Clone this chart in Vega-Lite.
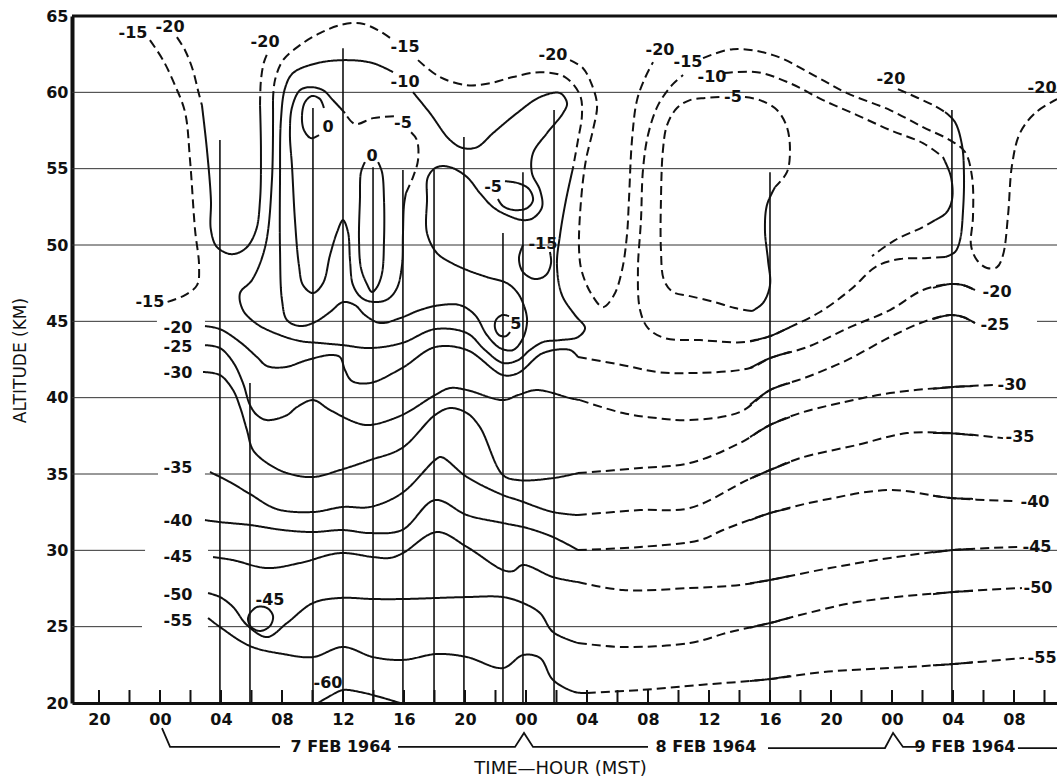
{
"$schema": "https://vega.github.io/schema/vega-lite/v6.json",
"width": 985, "height": 687,
"autosize": {"type": "none"},
"padding": {"left": 72, "top": 16, "right": 0, "bottom": 76},
"background": "white",
"config": {"view": {"stroke": null}},
"encoding": {
 "x": {"field": "t", "type": "quantitative", "scale": {"domain": [-5.77, 58.82], "nice": false, "zero": false},
  "axis": {"values": [-4,0,4,8,12,16,20,24,28,32,36,40,44,48,52,56], "labelExpr": "format(((datum.value % 24) + 24) % 24, '02d')", "ticks": false, "tickSize": 0, "grid": false, "domainColor": "#111", "domainWidth": 3, "labelFont": "DejaVu Sans", "labelFontWeight": "bold", "labelFontSize": 16, "labelColor": "#111", "labelPadding": 8, "labelFlush": false, "labelOverlap": false, "title": "TIME—HOUR  (MST)", "titleFont": "DejaVu Sans", "titleFontWeight": "normal", "titleFontSize": 18, "titleColor": "#111", "titleX": 488, "titleY": 65, "titleBaseline": "middle", "titleAlign": "center"}},
 "y": {"field": "a", "type": "quantitative", "scale": {"domain": [20, 65], "nice": false, "zero": false},
  "axis": {"values": [20,25,30,35,40,45,50,55,60,65], "ticks": false, "tickSize": 0, "grid": false, "domainColor": "#111", "domainWidth": 4, "labelFont": "DejaVu Sans", "labelFontWeight": "bold", "labelFontSize": 16, "labelColor": "#111", "labelPadding": 4, "labelFlush": false, "labelOverlap": false, "title": "ALTITUDE (KM)", "titleFont": "DejaVu Sans", "titleFontWeight": "normal", "titleFontSize": 17, "titleColor": "#111", "titleX": -52, "titleY": 344, "titleBaseline": "middle", "titleAlign": "center", "titleAngle": -90}}
},
"layer": [
 {"data": {"values": [
  {"t": -5.77, "t2": 58.82, "a": 60}, {"t": -5.77, "t2": 58.82, "a": 55}, {"t": -5.77, "t2": 58.82, "a": 50},
  {"t": -5.77, "t2": -0.2, "a": 45}, {"t": 2.95, "t2": 53.11, "a": 45}, {"t": 57.51, "t2": 58.82, "a": 45},
  {"t": -5.77, "t2": 58.82, "a": 40},
  {"t": -5.77, "t2": -0.13, "a": 35}, {"t": 2.95, "t2": 58.82, "a": 35},
  {"t": -5.77, "t2": -0.98, "a": 30}, {"t": 3.15, "t2": 58.82, "a": 30},
  {"t": -5.77, "t2": -1.18, "a": 25}, {"t": 3.15, "t2": 58.82, "a": 25}]},
  "mark": {"type": "rule", "stroke": "#333", "strokeWidth": 1},
  "encoding": {"x2": {"field": "t2"}}},
 {"data": {"values": [
  {"t": 3.93, "a": 20, "a2": 56.87}, {"t": 5.9, "a": 20, "a2": 40.96}, {"t": 10.03, "a": 20, "a2": 58.97},
  {"t": 12.0, "a": 20, "a2": 62.89}, {"t": 13.97, "a": 20, "a2": 55.1}, {"t": 15.93, "a": 20, "a2": 54.91},
  {"t": 17.97, "a": 20, "a2": 54.91}, {"t": 19.93, "a": 20, "a2": 57.07}, {"t": 22.49, "a": 20, "a2": 50.78},
  {"t": 23.8, "a": 20, "a2": 54.77}, {"t": 25.84, "a": 20, "a2": 58.84}, {"t": 40.0, "a": 20, "a2": 54.77},
  {"t": 51.93, "a": 20, "a2": 58.84}]},
  "mark": {"type": "rule", "stroke": "#111", "strokeWidth": 1.6},
  "encoding": {"y2": {"field": "a2"}}},
 {"data": {"values": [
  {"t": -4, "a": 20, "a2": 20.85}, {"t": -2, "a": 20, "a2": 20.85}, {"t": 0, "a": 20, "a2": 20.85}, {"t": 2, "a": 20, "a2": 20.85},
  {"t": 4, "a": 20, "a2": 20.85}, {"t": 6, "a": 20, "a2": 20.85}, {"t": 8, "a": 20, "a2": 20.85}, {"t": 10, "a": 20, "a2": 20.85},
  {"t": 12, "a": 20, "a2": 20.85}, {"t": 14, "a": 20, "a2": 20.85}, {"t": 16, "a": 20, "a2": 20.85}, {"t": 18, "a": 20, "a2": 20.85},
  {"t": 20, "a": 20, "a2": 20.85}, {"t": 22, "a": 20, "a2": 20.85}, {"t": 24, "a": 20, "a2": 20.85}, {"t": 26, "a": 20, "a2": 20.85},
  {"t": 28, "a": 20, "a2": 20.85}, {"t": 30, "a": 20, "a2": 20.85}, {"t": 32, "a": 20, "a2": 20.85}, {"t": 34, "a": 20, "a2": 20.85},
  {"t": 36, "a": 20, "a2": 20.85}, {"t": 38, "a": 20, "a2": 20.85}, {"t": 40, "a": 20, "a2": 20.85}, {"t": 42, "a": 20, "a2": 20.85},
  {"t": 44, "a": 20, "a2": 20.85}, {"t": 46, "a": 20, "a2": 20.85}, {"t": 48, "a": 20, "a2": 20.85}, {"t": 50, "a": 20, "a2": 20.85},
  {"t": 52, "a": 20, "a2": 20.85}, {"t": 54, "a": 20, "a2": 20.85}, {"t": 56, "a": 20, "a2": 20.85}, {"t": 58, "a": 20, "a2": 20.85}]},
  "mark": {"type": "rule", "stroke": "#111", "strokeWidth": 2},
  "encoding": {"y2": {"field": "a2"}}},
 {"data": {"values": [{"t": -5.77, "t2": 58.82, "a": 65}]},
  "mark": {"type": "rule", "stroke": "#111", "strokeWidth": 3},
  "encoding": {"x2": {"field": "t2"}}},
 {"data": {"values": [
  {"k": "L60", "s": "solid", "t": [10.36,11.15,12.0,13.11,14.43,15.74], "a": [20.0,20.46,20.85,20.72,20.39,20.0]},
  {"k": "L55a", "s": "solid", "t": [3.15,3.93,5.9,8.07,10.03,12.0,13.97,15.93,18.16,20.13,22.49,23.8,24.92,25.77,27.21,28.0], "a": [25.57,24.98,23.73,23.21,23.01,23.67,23.01,22.82,23.21,23.01,22.29,23.14,22.95,21.51,20.72,20.65]},
  {"k": "L55b", "s": "dash", "t": [28.0,31.48,35.41,40.0,43.48,47.87,52.0,56.66], "a": [20.65,20.85,21.18,21.57,22.03,22.29,22.55,22.95]},
  {"k": "L50a", "s": "solid", "t": [3.15,3.93,4.79,5.7,7.02,8.33,10.03,11.8,13.97,15.93,18.16,20.13,22.49,23.8,24.92,25.77,27.41], "a": [27.2,26.94,26.29,25.11,24.32,25.24,26.55,26.88,26.81,26.81,26.88,26.94,26.94,26.55,25.89,24.65,23.93]},
  {"k": "L50b", "s": "dash", "t": [27.41,30.36,34.75,37.38,40.0,41.97,45.7,52.0,56.52], "a": [23.93,23.67,23.93,24.65,25.24,25.76,26.61,27.27,27.53]},
  {"k": "L45loop", "s": "solid", "t": [5.9,6.36,7.02,7.41,7.21,6.56,5.97,5.77,5.9], "a": [25.89,26.29,26.22,25.7,25.04,24.72,24.98,25.5,25.89]},
  {"k": "L45a", "s": "solid", "t": [3.48,4.79,7.02,9.18,11.8,13.97,15.08,15.93,18.16,20.13,22.49,23.15,23.8,25.77,27.41], "a": [29.56,29.36,28.84,29.17,29.82,29.56,29.5,29.82,31.2,30.22,28.71,28.64,29.04,28.25,27.92]},
  {"k": "L45b", "s": "dash", "t": [27.41,30.36,34.75,38.03,40.0,43.93,47.87,52.0,56.39], "a": [27.92,27.4,27.53,27.73,28.06,28.84,29.5,30.02,30.22]},
  {"k": "L40a", "s": "solid", "t": [2.95,3.93,5.9,8.07,10.03,12.0,13.77,15.87,18.03,20.13,22.49,24.07,25.77,27.41], "a": [31.98,31.85,31.66,31.33,31.2,31.33,31.13,31.33,33.29,32.31,31.79,31.46,30.87,30.02]},
  {"k": "L40b", "s": "dash", "t": [27.41,31.48,35.41,36.92,40.0,43.48,47.87,51.8,56.07], "a": [30.02,30.22,30.67,31.33,32.44,33.29,33.95,33.43,33.23]},
  {"k": "L35a", "s": "solid", "t": [3.28,4.59,5.9,7.67,10.03,12.0,13.77,15.87,18.03,18.43,20.13,22.49,23.48,25.77,27.41], "a": [35.13,34.47,33.69,32.7,32.51,32.84,32.84,33.75,35.91,36.11,34.8,33.62,33.29,32.51,32.31]},
  {"k": "L35b", "s": "dash", "t": [27.41,31.48,34.75,38.49,40.0,41.97,45.7,48.98,51.8,55.28], "a": [32.31,32.64,32.77,34.6,35.26,36.04,36.9,37.68,37.68,37.35]},
  {"k": "L30a", "s": "solid", "t": [2.82,3.93,4.79,5.25,5.7,6.1,7.02,8.33,10.03,11.8,13.77,15.87,18.03,19.02,20.13,20.98,22.49,23.48,25.77,27.41], "a": [41.68,41.48,40.5,39.38,37.88,36.57,35.72,35.06,34.8,35.26,35.91,36.7,38.86,39.32,38.99,38.07,34.93,34.6,34.73,35.06]},
  {"k": "L30b", "s": "dash", "t": [27.41,31.48,34.75,38.03,40.0,41.97,44.59,47.87,51.8,54.75], "a": [35.06,35.39,35.72,37.03,38.21,38.99,39.65,40.3,40.69,40.83]},
  {"k": "L25a", "s": "solid", "t": [2.95,3.93,4.79,5.44,5.9,6.36,7.02,8.33,8.98,10.03,11.15,12.92,13.77,15.87,18.03,19.02,20.13,22.49,23.48,24.72,26.89,27.54], "a": [43.44,43.25,42.33,40.96,39.52,38.86,38.53,38.86,39.38,39.84,39.19,38.34,38.21,38.86,40.17,40.63,40.5,39.84,40.17,40.5,39.97,39.84]},
  {"k": "L25b", "s": "dash", "t": [27.54,30.36,32.59,34.75,38.03,40.0,42.43,45.05,47.87,50.03,51.8,52.66,53.44], "a": [39.84,38.99,38.66,38.53,39.06,40.5,41.35,42.46,43.97,44.95,45.41,45.28,44.89]},
  {"k": "L20a", "s": "solid", "t": [2.95,3.93,5.25,6.36,7.02,8.2,9.64,11.15,11.8,12.13,12.59,13.77,15.87,18.03,20.13,22.49,23.48,25.11,26.89,27.41], "a": [44.69,44.49,43.64,42.66,42.07,42.0,42.46,42.79,42.66,41.81,41.09,40.96,41.94,43.31,43.12,41.48,41.61,42.92,43.12,42.66]},
  {"k": "L20b", "s": "dash", "t": [27.41,30.36,32.59,34.75,38.69,40.0,42.43,45.25,47.87,50.03,51.8,52.66,53.44], "a": [42.66,42.13,41.68,41.61,41.94,42.59,43.31,44.62,45.74,47.05,47.44,47.37,47.05]},
  {"k": "U15s", "s": "solid", "t": [27.08,26.62,26.23,26.03,26.36,27.21,27.87,27.41,26.23,25.11,24.26,23.48,22.49,21.31,20.13,18.03,15.87,13.77,12.0,10.49,9.18,7.87,6.36,5.44,5.25,6.03,6.89,7.34,7.41], "a": [55.04,52.94,50.65,48.68,46.72,45.41,44.56,43.97,43.77,43.64,43.12,42.46,42.27,43.12,44.23,44.49,43.58,43.25,43.44,43.58,43.71,44.1,44.82,45.74,46.85,47.7,49.86,54.25,59.49]},
  {"k": "U15d1", "s": "dash", "t": [7.41,7.54,8.07,9.18,10.49,11.8,13.11,14.3,15.28], "a": [59.49,60.8,62.11,63.09,63.88,64.4,64.53,64.07,63.42]},
  {"k": "U15d2", "s": "dash", "t": [16.92,18.36,20.13,21.64,23.15,24.92,26.56,27.54,27.67,27.41,27.08], "a": [62.11,61.0,60.47,60.6,61.0,61.32,61.0,59.82,58.51,56.87,55.04]},
  {"k": "U10", "s": "solid", "t": [16.59,17.7,19.02,19.87,20.79,21.84,23.41,24.92,26.23,26.69,26.43,25.38,24.46,24.39,24.92,25.05,24.46,23.8,22.75,21.84,20.98,20.13,19.02,18.16,17.57,17.51,17.51,18.16,19.02,20.13,21.44,22.75,23.41,23.8,24.07,23.8,23.15,22.3,21.44,20.66,19.67,18.36,17.05,15.74,14.43,13.44,12.79,12.0,11.15,10.16,9.18,8.33,8.0,7.87,7.87,7.93,8.2,8.72,10.3,12.26,13.97,15.28], "a": [60.01,58.64,56.87,56.35,56.41,57.33,58.64,59.69,59.95,59.29,58.64,57.33,56.02,54.71,53.59,52.48,51.76,51.63,51.96,52.48,53.4,54.45,55.1,55.1,54.45,52.94,50.78,49.47,48.88,48.36,47.9,47.5,46.92,46.2,45.08,43.9,43.12,43.25,44.1,45.41,46.06,46.06,45.74,45.21,44.89,45.41,46.06,46.26,45.61,44.95,44.69,45.08,46.39,49.67,54.25,58.18,60.27,61.26,61.91,62.11,61.91,61.32]},
  {"k": "U5a", "s": "solid", "t": [12.13,11.34,10.69,9.84,9.18,8.66,8.52,8.66,8.85,9.11,9.38,10.03,10.69,11.15,11.61,12.0,12.33,12.46,12.66,13.25,14.1,14.95,15.54,15.87,15.93,16.0,16.13], "a": [58.64,59.49,60.14,60.34,60.14,59.03,57.33,55.1,51.63,48.68,47.37,46.85,47.5,49.34,50.84,51.63,50.84,49.01,47.37,46.52,46.26,46.46,47.18,48.68,50.65,52.61,53.4]},
  {"k": "U5b", "s": "dash", "t": [16.13,16.59,16.92,16.85,16.46], "a": [53.4,54.45,55.56,56.87,57.39]},
  {"k": "U5c", "s": "dash", "t": [15.34,13.97,12.79,12.13], "a": [58.44,58.31,57.92,58.64]},
  {"k": "Z0tall", "s": "solid", "t": [14.3,14.56,14.69,14.69,14.56,14.23,13.9,13.57,13.18,13.05,13.11,13.18,13.44], "a": [55.43,54.77,52.94,50.32,48.16,47.24,46.92,47.44,48.49,50.32,52.94,54.77,55.43]},
  {"k": "Z0small", "s": "solid", "t": [10.75,10.49,9.97,9.51,9.31,9.44,9.9,10.43], "a": [58.97,59.56,59.76,59.36,58.44,57.53,57.0,57.2]},
  {"k": "M5loop", "s": "solid", "t": [22.62,23.48,24.2,24.46,24.07,23.21,22.49,22.16], "a": [54.18,54.05,53.66,52.94,52.42,52.29,52.55,53.01]},
  {"k": "M5circ", "s": "solid", "t": [22.89,22.43,22.03,21.97,22.23,22.69,22.95], "a": [45.34,45.41,45.08,44.56,44.1,44.03,44.3]},
  {"k": "M15U", "s": "solid", "t": [23.8,23.54,23.8,24.59,25.31,25.64,25.57], "a": [49.99,49.14,48.23,47.77,48.03,48.81,49.54]},
  {"k": "U20a", "s": "dash", "t": [1.11,1.64,2.16,2.49,2.75], "a": [63.62,62.76,61.45,60.14,59.16]},
  {"k": "U20b", "s": "solid", "t": [2.75,3.08,3.34,3.34,3.74,4.72,5.64,6.3,6.56,6.62,6.56], "a": [59.16,56.22,52.94,50.98,49.86,49.4,49.8,50.98,52.94,56.22,59.16]},
  {"k": "U20c", "s": "dash", "t": [6.56,6.62,6.82,7.08], "a": [59.16,60.8,61.98,62.63]},
  {"k": "L15", "s": "dash", "t": [-0.66,0.2,0.98,1.64,1.97,2.3,2.56,2.43,1.64,0.46], "a": [63.42,62.11,60.47,58.71,55.56,50.98,48.68,47.37,46.72,46.26]},
  {"k": "RU20", "s": "dash", "t": [26.89,27.74,28.33,28.66,28.39,27.93,27.61,27.48,27.67,28.33,29.05,29.77,30.3,30.62,30.75,30.95,31.28,31.8,32.33], "a": [62.11,61.58,60.47,59.16,57.53,55.56,52.94,49.67,48.23,46.72,45.93,46.72,48.36,50.65,52.94,56.87,59.49,60.93,61.98]},
  {"k": "Ra", "s": "dash", "t": [35.61,37.57,40.2,43.08,45.05,47.87,50.03,51.8,52.79,53.25,53.31,53.18,53.57,54.23,54.89,55.28,55.61,55.87,56.39,57.38,58.82], "a": [62.24,62.83,62.44,61.0,59.95,58.84,57.72,56.87,56.09,54.45,51.83,49.99,49.01,48.49,48.55,49.34,51.96,55.23,57.33,58.64,59.56]},
  {"k": "Rb1", "s": "dash", "t": [48.39,49.7,50.82,51.48], "a": [60.21,59.63,59.1,58.71]},
  {"k": "Rb2", "s": "solid", "t": [51.48,52.13,52.59,52.72,52.66,52.46,52.13,51.48], "a": [58.71,58.05,56.54,54.58,52.29,50.32,49.54,49.21]},
  {"k": "Rb3", "s": "dash", "t": [51.48,50.16,48.52,47.02,45.25,43.28,41.31,40.0,38.36,35.41,33.11,32.0,31.48,31.34,31.54,31.67,32.0,32.66,33.57,34.3], "a": [49.21,49.14,49.08,48.62,47.05,45.61,44.62,44.03,43.64,43.77,43.9,44.56,45.74,48.36,51.63,54.91,57.2,59.16,60.47,61.13]},
  {"k": "Rm1", "s": "dash", "t": [36.98,39.15,41.31,43.48,45.7,47.87,50.03,51.34], "a": [61.26,61.32,60.6,59.49,58.51,57.53,56.67,55.76]},
  {"k": "Rm2", "s": "solid", "t": [51.34,51.87,51.93,51.54,50.82], "a": [55.76,54.45,52.94,52.09,51.63]},
  {"k": "Rm3", "s": "dash", "t": [50.82,50.03,48.2,46.69], "a": [51.63,51.17,50.32,49.27]},
  {"k": "R5a", "s": "dash", "t": [38.36,39.34,40.46,41.11,41.31,41.11,40.33], "a": [59.69,59.49,58.84,57.72,56.22,54.77,53.79]},
  {"k": "R5b", "s": "solid", "t": [40.33,39.8,39.67,39.87,40.0,39.54,38.82], "a": [53.79,52.61,50.98,49.01,47.37,46.2,45.67]},
  {"k": "R5c", "s": "dash", "t": [38.82,37.7,36.39,34.75,33.64,33.05,32.85,32.85,32.98,33.25,33.9,34.75,35.74,36.72], "a": [45.67,45.87,46.26,46.65,46.92,47.7,49.67,52.94,56.22,57.85,58.97,59.49,59.63,59.69]},
  {"k": "O770a", "s": "solid", "t": [38.69,40.0,41.31], "a": [21.44,21.57,21.77]},
  {"k": "O770b", "s": "solid", "t": [38.69,40.0,41.31], "a": [24.94,25.24,25.59]},
  {"k": "O770c", "s": "solid", "t": [38.69,40.0,41.31], "a": [27.84,28.06,28.32]},
  {"k": "O770d", "s": "solid", "t": [38.69,40.0,41.31], "a": [31.97,32.44,32.76]},
  {"k": "O770e", "s": "solid", "t": [38.69,40.0,41.31], "a": [34.69,35.26,35.78]},
  {"k": "O770f", "s": "solid", "t": [38.69,40.0,41.31], "a": [37.42,38.21,38.73]},
  {"k": "O770g", "s": "solid", "t": [38.69,40.0,41.31], "a": [39.53,40.5,40.96]},
  {"k": "O770h", "s": "solid", "t": [38.69,40.0,41.31], "a": [41.94,42.59,42.99]},
  {"k": "O770i", "s": "solid", "t": [38.69,40.0,41.31], "a": [43.71,44.03,44.62]},
  {"k": "O953a", "s": "solid", "t": [50.69,52.0,53.31], "a": [22.47,22.55,22.67]},
  {"k": "O953b", "s": "solid", "t": [50.69,52.0,53.31], "a": [27.13,27.27,27.34]},
  {"k": "O953c", "s": "solid", "t": [50.69,52.0,53.31], "a": [29.86,30.02,30.09]},
  {"k": "O953d", "s": "solid", "t": [50.69,52.0,53.31], "a": [33.58,33.42,33.37]},
  {"k": "O953e", "s": "solid", "t": [50.69,52.0,53.31], "a": [37.68,37.66,37.54]},
  {"k": "O953f", "s": "solid", "t": [50.69,52.0,53.31], "a": [40.58,40.7,40.76]},
  {"k": "O953g", "s": "solid", "t": [50.69,51.8,52.66,53.44], "a": [45.15,45.41,45.28,44.89]},
  {"k": "O953h", "s": "solid", "t": [50.69,51.8,52.66,53.44], "a": [47.19,47.44,47.37,47.05]}
  ]},
  "transform": [{"flatten": ["t", "a"]}],
  "mark": {"type": "line", "interpolate": "catmull-rom", "stroke": "#111", "strokeWidth": 2},
  "encoding": {
   "detail": {"field": "k", "type": "nominal"},
   "strokeDash": {"field": "s", "type": "nominal", "scale": {"domain": ["solid", "dash"], "range": [[1, 0], [9, 5]]}, "legend": null},
   "order": {"value": null}}},
 {"data": {"values": [
  {"k": "B1", "t": [0.13,0.66,7.87], "a": [18.36,17.12,17.12]},
  {"k": "B2", "t": [15.61,23.28,23.87,24.46,32.0], "a": [17.12,17.12,18.04,17.12,17.12]},
  {"k": "B3", "t": [39.87,47.54,48.07,48.72,49.64], "a": [17.05,17.05,18.04,17.12,17.12]},
  {"k": "B4", "t": [56.26,58.82], "a": [17.05,17.05]}]},
  "transform": [{"flatten": ["t", "a"]}],
  "mark": {"type": "line", "interpolate": "linear", "stroke": "#111", "strokeWidth": 1.8},
  "encoding": {"detail": {"field": "k", "type": "nominal"}, "order": {"value": null}}},
 {"data": {"values": [
  {"t": -1.77, "a": 63.88, "lab": "-15"}, {"t": 0.66, "a": 64.27, "lab": "-20"}, {"t": 6.89, "a": 63.29, "lab": "-20"},
  {"t": 16.07, "a": 62.96, "lab": "-15"}, {"t": 16.07, "a": 60.67, "lab": "-10"}, {"t": 15.93, "a": 57.98, "lab": "-5"},
  {"t": 11.02, "a": 57.72, "lab": "0"}, {"t": 13.9, "a": 55.82, "lab": "0"}, {"t": 21.84, "a": 53.79, "lab": "-5"},
  {"t": 25.11, "a": 50.06, "lab": "-15"}, {"t": 23.34, "a": 44.82, "lab": "5"}, {"t": 25.77, "a": 62.44, "lab": "-20"},
  {"t": 32.79, "a": 62.76, "lab": "-20"}, {"t": 34.62, "a": 61.98, "lab": "-15"}, {"t": 36.2, "a": 61.0, "lab": "-10"},
  {"t": 37.57, "a": 59.69, "lab": "-5"}, {"t": 47.93, "a": 60.86, "lab": "-20"}, {"t": 57.84, "a": 60.27, "lab": "-20"},
  {"t": -0.66, "a": 46.26, "lab": "-15"},
  {"t": 1.18, "a": 44.56, "lab": "-20"}, {"t": 1.18, "a": 43.31, "lab": "-25"}, {"t": 1.18, "a": 41.61, "lab": "-30"},
  {"t": 1.18, "a": 35.39, "lab": "-35"}, {"t": 1.18, "a": 31.92, "lab": "-40"}, {"t": 1.18, "a": 29.56, "lab": "-45"},
  {"t": 1.18, "a": 27.07, "lab": "-50"}, {"t": 1.18, "a": 25.37, "lab": "-55"}, {"t": 7.21, "a": 26.75, "lab": "-45"},
  {"t": 11.02, "a": 21.31, "lab": "-60"},
  {"t": 54.89, "a": 46.92, "lab": "-20"}, {"t": 54.75, "a": 44.75, "lab": "-25"}, {"t": 55.87, "a": 40.83, "lab": "-30"},
  {"t": 56.39, "a": 37.42, "lab": "-35"}, {"t": 57.38, "a": 33.16, "lab": "-40"}, {"t": 57.51, "a": 30.22, "lab": "-45"},
  {"t": 57.57, "a": 27.53, "lab": "-50"}, {"t": 57.84, "a": 22.95, "lab": "-55"},
  {"t": 11.87, "a": 17.12, "lab": "7 FEB 1964"}, {"t": 35.8, "a": 17.12, "lab": "8 FEB 1964"}, {"t": 52.79, "a": 17.12, "lab": "9 FEB 1964"}]},
  "mark": {"type": "text", "font": "DejaVu Sans", "fontWeight": "bold", "fontSize": 16, "fill": "#111", "align": "center", "baseline": "middle"},
  "encoding": {"text": {"field": "lab", "type": "nominal"}}}
]
}
